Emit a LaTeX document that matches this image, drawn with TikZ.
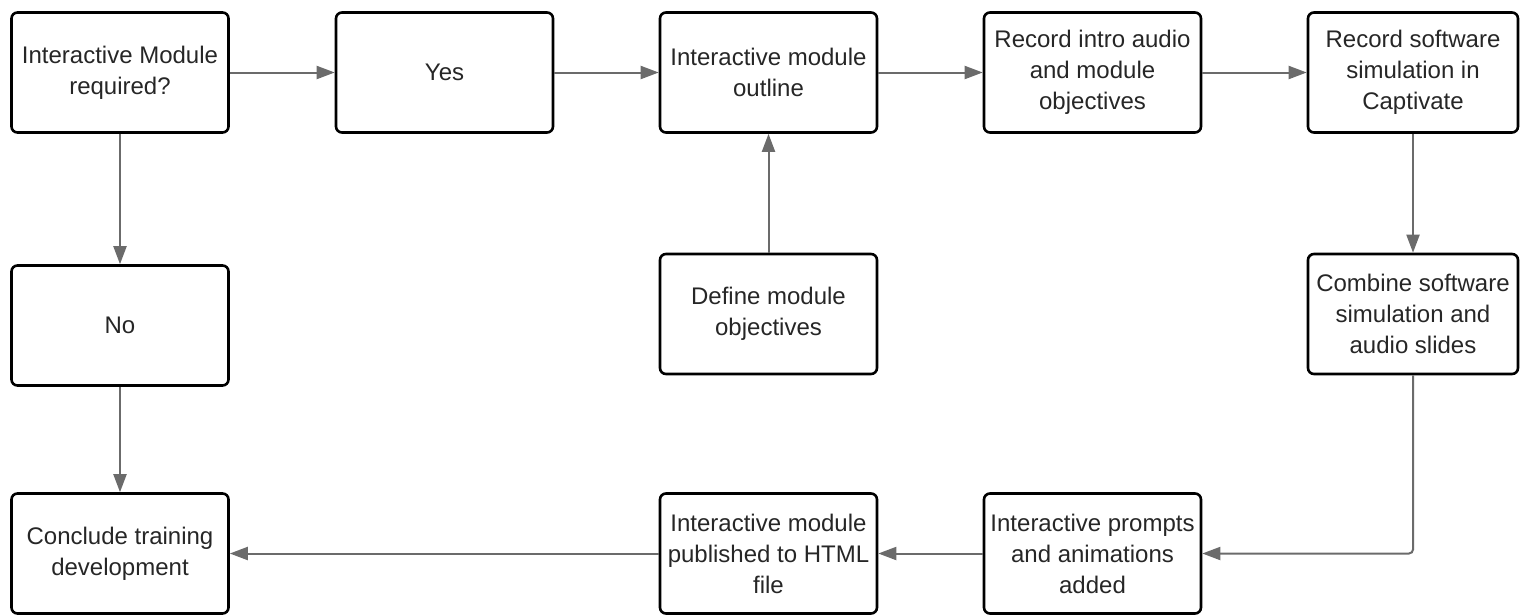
\documentclass[tikz,border=0pt]{standalone}
\usepackage{fontspec}
\setmainfont{Liberation Sans}
\usetikzlibrary{arrows.meta}
\definecolor{linegray}{HTML}{6B6B6B}
\definecolor{textgray}{HTML}{262626}
\begin{document}
\begin{tikzpicture}[x=1pt,y=-1pt,
  box/.style={draw=black, line width=2.6pt, rounded corners=6pt,
    minimum width=217pt, minimum height=120pt, inner sep=0pt,
    align=center, font=\fontsize{24}{31}\selectfont, text=textgray},
  narrowbox/.style={box, minimum width=210pt},
  flow/.style={draw=linegray, line width=2pt,
    -{Triangle[length=18pt,width=13pt]}}]
\useasboundingbox (0,0) rectangle (1520,614);

% top row
\node[box] (q)    at (120,72.5)    {Interactive Module\\required?};
\node[box] (yes)  at (444.5,72.5)  {Yes};
\node[box] (out)  at (768.5,72.5)  {Interactive module\\outline};
\node[box] (rec)  at (1092.5,72.5) {Record intro audio\\and module\\objectives};
\node[narrowbox] (sim) at (1413,72.5) {Record software\\simulation in\\Captivate};

% middle row
\node[box] (no)   at (120,325.5)   {No};
\node[box] (def)  at (768.5,314)   {Define module\\objectives};
\node[narrowbox] (comb) at (1413,314) {Combine software\\simulation and\\audio slides};

% bottom row
\node[box] (end)  at (120,553.5)   {Conclude training\\development};
\node[box] (pub)  at (768.5,553.5) {Interactive module\\published to HTML\\file};
\node[box] (prm)  at (1092.5,553.5) {Interactive prompts\\and animations\\added};

% connectors
\draw[flow] (q) -- (yes);
\draw[flow] (yes) -- (out);
\draw[flow] (out) -- (rec);
\draw[flow] (rec) -- (sim);
\draw[flow] (q) -- (no);
\draw[flow] (no) -- (end);
\draw[flow] (def) -- (out);
\draw[flow] (sim) -- (comb);
\draw[flow, rounded corners=4pt] (comb.south) |- (prm.east);
\draw[flow] (prm) -- (pub);
\draw[flow] (pub) -- (end);
\end{tikzpicture}
\end{document}
